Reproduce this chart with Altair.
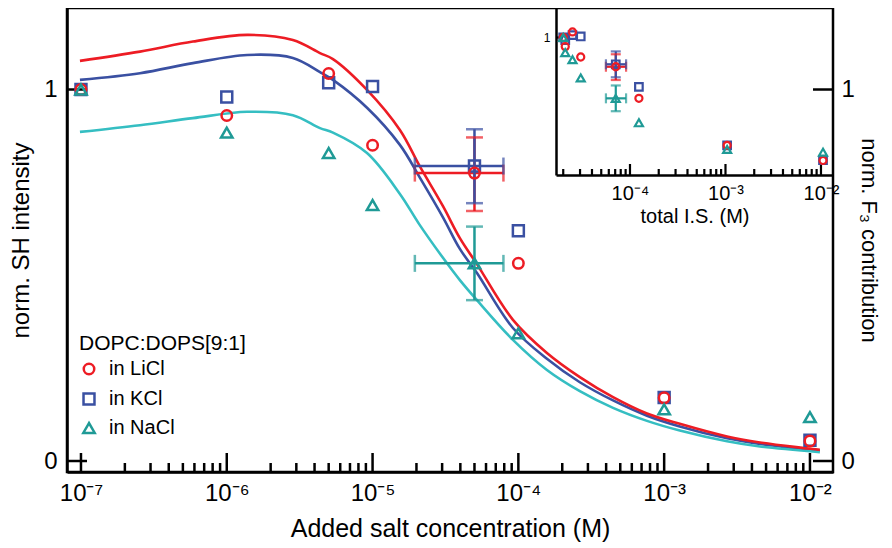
import altair as alt
import pandas as pd

FONT = "Liberation Sans"
RED = "#ED1C24"
BLUE = "#3A50A2"
TEAL = "#1F9A96"
CYAN = "#35BEC2"

salts = ["LiCl", "KCl", "NaCl"]
salt_colors = [RED, BLUE, TEAL]
curve_colors = [RED, BLUE, CYAN]
salt_shapes = ["circle", "square", "triangle-up"]

# measured points
conc = [1e-7, 1e-6, 5e-6, 1e-5, 5e-5, 1e-4, 1e-3, 1e-2]
total_is = [2.0e-5, 2.1e-5, 2.5e-5, 3.05e-5, 7.1e-5, 1.24e-4, 1.04e-3, 1.05e-2]
licl = [1.0, 0.93, 1.043, 0.85, 0.775, 0.532, 0.17, 0.054]
kcl = [1.0, 0.98, 1.018, 1.008, 0.794, 0.62, 0.171, 0.056]
nacl = [1.0, 0.884, 0.829, 0.689, 0.532, 0.344, 0.139, 0.118]

# error bars (at 5e-5 M)
err_salt = ["LiCl", "KCl", "NaCl"]
err_conc = [5e-5, 5e-5, 5e-5]
err_tis = [7.1e-5, 7.1e-5, 7.1e-5]
err_v = [0.775, 0.794, 0.532]
err_lo = [0.673, 0.694, 0.433]
err_hi = [0.871, 0.893, 0.631]
err_xlo = [1.95e-5, 1.95e-5, 1.95e-5]
err_xhi = [7.9e-5, 7.9e-5, 7.9e-5]
err_txlo = [5.6e-5, 5.6e-5, 5.6e-5]
err_txhi = [9.1e-5, 9.1e-5, 9.1e-5]

# model curves
curve_conc = [9.84e-8, 2.54e-7, 5.86e-7, 1.38e-6, 2.84e-6, 4.36e-6, 5.35e-6, 9.16e-6,
              1.54e-5, 2.11e-5, 3.04e-5, 3.97e-5, 5.2e-5, 9.18e-5, 1.57e-4, 2.64e-4,
              4.46e-4, 7.62e-4, 1.28e-3, 2.7e-3, 4.54e-3, 1.17e-2]
curve_licl = [1.077, 1.102, 1.129, 1.147, 1.133, 1.098, 1.082, 0.999, 0.891, 0.793, 0.686,
              0.600, 0.530, 0.380, 0.291, 0.226, 0.172, 0.128, 0.100, 0.066, 0.050, 0.030]
curve_kcl = [1.026, 1.044, 1.071, 1.093, 1.085, 1.047, 1.026, 0.951, 0.851, 0.763, 0.656,
             0.571, 0.506, 0.358, 0.275, 0.212, 0.163, 0.122, 0.093, 0.061, 0.046, 0.027]
curve_nacl = [0.886, 0.904, 0.923, 0.940, 0.931, 0.896, 0.884, 0.829, 0.719, 0.635, 0.547,
              0.487, 0.433, 0.326, 0.245, 0.188, 0.143, 0.108, 0.082, 0.053, 0.039, 0.024]

# ticks
x_major = [1e-7, 1e-6, 1e-5, 1e-4, 1e-3, 1e-2]
x_major_labels = ["10⁻⁷", "10⁻⁶", "10⁻⁵", "10⁻⁴", "10⁻³", "10⁻²"]
x_minor = [m * d for d in [1e-7, 1e-6, 1e-5, 1e-4, 1e-3] for m in range(2, 10)]
y_ticks = [0, 1]
inset_x_major = [1e-4, 1e-3, 1e-2]
inset_x_labels = ["10⁻⁴", "10⁻³", "10⁻²"]
inset_x_minor = [m * d for d in [1e-5, 1e-4, 1e-3] for m in range(2, 10) if m * d > 1.7e-5]
inset_y_ticks = [1]

W, H = 766, 464
IX0, IX1, IY0 = 489, 766, 167

rows = []
for s, arr in zip(["KCl", "LiCl", "NaCl"], [kcl, licl, nacl]):
    for c, t, v in zip(conc, total_is, arr):
        rows.append({"salt": s, "conc": c, "tis": t, "v": v})
pts = pd.DataFrame(rows)

crows = []
for s, arr in zip(["KCl", "NaCl", "LiCl"], [curve_kcl, curve_nacl, curve_licl]):
    for c, v in zip(curve_conc, arr):
        crows.append({"curve": s, "conc": c, "v": v})
curves = pd.DataFrame(crows)

err = pd.DataFrame({"salt": err_salt, "conc": err_conc, "tis": err_tis, "v": err_v,
                    "lo": err_lo, "hi": err_hi, "xlo": err_xlo, "xhi": err_xhi,
                    "txlo": err_txlo, "txhi": err_txhi})
ycaps = pd.concat([err[["salt", "conc", "tis"]].assign(y=err["lo"]),
                   err[["salt", "conc", "tis"]].assign(y=err["hi"])])
xcaps = pd.concat([err[["salt", "v"]].assign(x=err["xlo"], tx=err["txlo"]),
                   err[["salt", "v"]].assign(x=err["xhi"], tx=err["txhi"])])


def label_expr(values, labels):
    import math
    parts = []
    for v, lab in zip(values, labels):
        parts.append("abs(log(datum.value)/LN10 - (%d)) < 0.01 ? '%s' : " % (round(math.log10(v)), lab))
    return "".join(parts) + "''"


MX = alt.Scale(type="log", domain=[8.02e-8, 1.439e-2], nice=False)
MY = alt.Scale(domain=[-0.0296, 1.2194], nice=False, zero=False)
IX = alt.Scale(type="log", domain=[1.68e-5, 1.336e-2], range=[IX0, IX1], nice=False)
IY = alt.Scale(domain=[-0.0577, 1.2269], range=[IY0, 0], nice=False, zero=False)
CS = alt.Scale(domain=salts, range=salt_colors)
SS = alt.Scale(domain=salts, range=salt_shapes)

legend = alt.Legend(orient="none", legendX=12, legendY=325, title="DOPC:DOPS[9:1]",
                    titleFontSize=21, titleFontWeight="normal", titleFont=FONT, titleColor="black",
                    titlePadding=5, labelFontSize=20, labelFont=FONT, labelColor="black",
                    labelExpr="'in ' + datum.label", labelOffset=10, rowPadding=8,
                    symbolSize=115, symbolStrokeWidth=2.5, padding=0)

x_axis_main = alt.Axis(orient="bottom", values=x_major, labelExpr=label_expr(x_major, x_major_labels),
                       labelFontSize=24, labelPadding=9, title="Added salt concentration (M)",
                       titleFontSize=25, titlePadding=11)
y_axis_left = alt.Axis(orient="left", values=y_ticks, format=".0f", labelFontSize=24,
                       labelPadding=10, title="norm. SH intensity", titleFontSize=24, titlePadding=10)
y_axis_right = alt.Axis(orient="right", values=y_ticks, format=".0f", labelFontSize=24,
                        labelPadding=8, domain=False, title="norm. F₃ contribution",
                        titleFontSize=22, titlePadding=2)
inset_x_axis = alt.Axis(orient="bottom", offset=IY0 - H, values=inset_x_major,
                        labelExpr=label_expr(inset_x_major, inset_x_labels), labelFontSize=20,
                        labelPadding=8, title="total I.S. (M)", titleFontSize=20, titlePadding=3)
inset_y_axis = alt.Axis(orient="left", offset=-IX0, values=inset_y_ticks, format=".0f",
                        labelFontSize=12, labelPadding=6, title=None)

lines = alt.Chart(curves).mark_line(strokeWidth=2.6, interpolate="catmull-rom").encode(
    x=alt.X("conc:Q", scale=MX, axis=None),
    y=alt.Y("v:Q", scale=MY, axis=None),
    color=alt.Color("curve:N", scale=alt.Scale(domain=salts, range=curve_colors), legend=None),
)

err_vert = alt.Chart(err).mark_rule(strokeWidth=2.5).encode(
    x=alt.X("conc:Q", scale=MX, axis=None),
    y=alt.Y("lo:Q", scale=MY, axis=None), y2="hi:Q",
    color=alt.Color("salt:N", scale=CS, legend=None))
err_horz = alt.Chart(err).mark_rule(strokeWidth=2.5).encode(
    x=alt.X("xlo:Q", scale=MX, axis=None), x2="xhi:Q",
    y=alt.Y("v:Q", scale=MY, axis=None),
    color=alt.Color("salt:N", scale=CS, legend=None))
err_ycap = alt.Chart(ycaps).mark_tick(orient="horizontal", size=17, thickness=2.5).encode(
    x=alt.X("conc:Q", scale=MX, axis=None),
    y=alt.Y("y:Q", scale=MY, axis=None),
    color=alt.Color("salt:N", scale=CS, legend=None))
err_xcap = alt.Chart(xcaps).mark_tick(orient="vertical", size=17, thickness=2.5).encode(
    x=alt.X("x:Q", scale=MX, axis=None),
    y=alt.Y("v:Q", scale=MY, axis=None),
    color=alt.Color("salt:N", scale=CS, legend=None))

points = alt.Chart(pts).mark_point(filled=False, strokeWidth=2.5, opacity=1).encode(
    x=alt.X("conc:Q", scale=MX, axis=x_axis_main),
    y=alt.Y("v:Q", scale=MY, axis=y_axis_left),
    color=alt.Color("salt:N", scale=CS, legend=legend),
    shape=alt.Shape("salt:N", scale=SS, legend=legend),
    size=alt.Size("salt:N", scale=alt.Scale(domain=salts, range=[110, 130, 170]), legend=None),
)

tick_df = lambda vals: pd.DataFrame({"t": vals})
xmaj = alt.Chart(tick_df(x_major)).mark_rule(color="black", strokeWidth=2.5).encode(
    x=alt.X("t:Q", scale=MX, axis=None), y=alt.value(H), y2=alt.value(H - 19))
xmin = alt.Chart(tick_df(x_minor)).mark_rule(color="black", strokeWidth=2.5).encode(
    x=alt.X("t:Q", scale=MX, axis=None), y=alt.value(H), y2=alt.value(H - 9))
yleft = alt.Chart(tick_df(y_ticks)).mark_rule(color="black", strokeWidth=2.5).encode(
    y=alt.Y("t:Q", scale=MY, axis=None), x=alt.value(0), x2=alt.value(20))
yright = alt.Chart(tick_df(y_ticks)).mark_rule(color="black", strokeWidth=2.5).encode(
    y=alt.Y("t:Q", scale=MY, axis=y_axis_right), x=alt.value(W - 20), x2=alt.value(W))

# inset
i_err_vert = alt.Chart(err).mark_rule(strokeWidth=2.2).encode(
    x=alt.X("tis:Q", scale=IX, axis=None),
    y=alt.Y("lo:Q", scale=IY, axis=None), y2="hi:Q",
    color=alt.Color("salt:N", scale=CS, legend=None))
i_err_horz = alt.Chart(err).mark_rule(strokeWidth=2.2).encode(
    x=alt.X("txlo:Q", scale=IX, axis=None), x2="txhi:Q",
    y=alt.Y("v:Q", scale=IY, axis=None),
    color=alt.Color("salt:N", scale=CS, legend=None))
i_err_ycap = alt.Chart(ycaps).mark_tick(orient="horizontal", size=10, thickness=2.2).encode(
    x=alt.X("tis:Q", scale=IX, axis=None),
    y=alt.Y("y:Q", scale=IY, axis=None),
    color=alt.Color("salt:N", scale=CS, legend=None))
i_err_xcap = alt.Chart(xcaps).mark_tick(orient="vertical", size=10, thickness=2.2).encode(
    x=alt.X("tx:Q", scale=IX, axis=None),
    y=alt.Y("v:Q", scale=IY, axis=None),
    color=alt.Color("salt:N", scale=CS, legend=None))
i_points = alt.Chart(pts).mark_point(filled=False, strokeWidth=2.2, opacity=1).encode(
    x=alt.X("tis:Q", scale=IX, axis=inset_x_axis),
    y=alt.Y("v:Q", scale=IY, axis=inset_y_axis),
    color=alt.Color("salt:N", scale=CS, legend=None),
    shape=alt.Shape("salt:N", scale=SS, legend=None),
    size=alt.Size("salt:N", scale=alt.Scale(domain=salts, range=[50, 64, 90]), legend=None),
)
i_xmaj = alt.Chart(tick_df(inset_x_major)).mark_rule(color="black", strokeWidth=2.2).encode(
    x=alt.X("t:Q", scale=IX, axis=None), y=alt.value(IY0), y2=alt.value(IY0 - 11))
i_xmin = alt.Chart(tick_df(inset_x_minor)).mark_rule(color="black", strokeWidth=2.2).encode(
    x=alt.X("t:Q", scale=IX, axis=None), y=alt.value(IY0), y2=alt.value(IY0 - 6))
i_ytick = alt.Chart(tick_df(inset_y_ticks)).mark_rule(color="black", strokeWidth=2.2).encode(
    y=alt.Y("t:Q", scale=IY, axis=None), x=alt.value(IX0), x2=alt.value(IX0 + 7))

chart = alt.layer(
    lines, xmaj, xmin, yleft, yright,
    err_horz, err_vert, err_ycap, err_xcap, points,
    i_xmaj, i_xmin, i_ytick, i_err_horz, i_err_vert, i_err_ycap, i_err_xcap, i_points,
).resolve_scale(
    x="independent", y="independent", color="independent", shape="independent", size="independent"
).properties(
    width=W, height=H,
    autosize=alt.AutoSizeParams(type="none"),
    padding={"left": 59, "top": 0, "right": 51, "bottom": 76},
).configure_view(
    stroke="black", strokeWidth=2.5
).configure_axis(
    domainColor="black", domainWidth=2.5, labelColor="black", titleColor="black",
    labelFont=FONT, titleFont=FONT, titleFontWeight="normal", grid=False, ticks=False,
)

chart.save("out.html", embed_options={"renderer": "svg", "actions": False})
